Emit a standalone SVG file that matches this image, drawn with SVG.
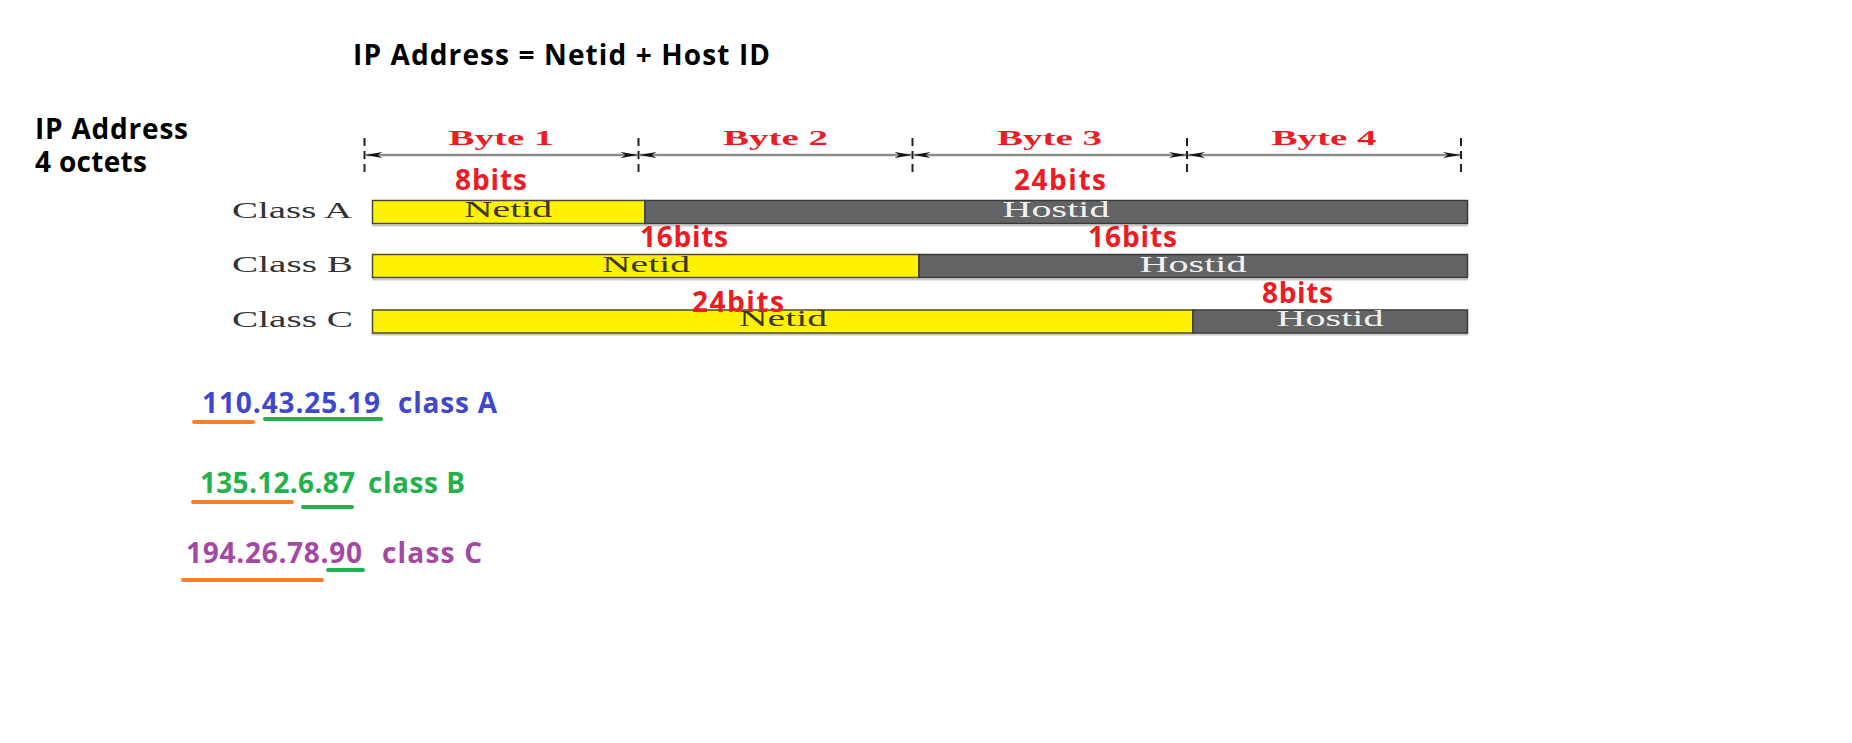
<svg xmlns="http://www.w3.org/2000/svg" width="1852" height="743" viewBox="0 0 1852 743">
<style>
.h{font-family:"Open Sans","Noto Sans",sans-serif;font-weight:bold;font-size:28px;fill:#000}
.byte{font-family:"Liberation Serif",serif;font-weight:bold;font-size:21px;fill:#ed1c24;text-anchor:middle}
.cls{font-family:"Liberation Serif",serif;font-size:23px;fill:#333}
.net{font-family:"Liberation Serif",serif;font-size:23px;fill:#3b3810;text-anchor:middle}
.host{font-family:"Liberation Serif",serif;font-size:23px;fill:#f2f2f2;text-anchor:middle}
.bits{font-family:"Open Sans","Noto Sans",sans-serif;font-weight:bold;font-size:28px;fill:#ed1c24}
.ip{font-family:"Open Sans","Noto Sans",sans-serif;font-weight:bold;font-size:28px}
.tick{stroke:#222;stroke-width:2;stroke-dasharray:8,5}
.arr{stroke:#8c8c8c;stroke-width:2.5;fill:none;marker-start:url(#ah);marker-end:url(#ah)}
.yel{fill:#fff200;stroke:#4a4a30;stroke-width:1.5}
.gry{fill:#636466;stroke:#3a3a3a;stroke-width:1.5}
.shadow{stroke:#c8c8c8;stroke-width:2}
.ul{stroke-width:4;stroke-linecap:round}
</style>
<defs>
<marker id="ah" markerUnits="userSpaceOnUse" markerWidth="18" markerHeight="8" refX="17" refY="4" orient="auto-start-reverse">
<path d="M0,1 L17,4 L0,7 L5,4 z" fill="#111"/>
</marker>
</defs>
<rect width="1852" height="743" fill="#fff"/>

<g id="title"><text class="h" x="353" y="65" textLength="417">IP Address = Netid + Host ID</text></g>
<g id="side-label">
<text class="h" x="35" y="139" textLength="153">IP Address</text>
<text class="h" x="35" y="172" textLength="112">4 octets</text>
</g>

<g id="connectors">
<line class="tick" x1="364.5" y1="138" x2="364.5" y2="174"/>
<line class="tick" x1="638.5" y1="138" x2="638.5" y2="174"/>
<line class="tick" x1="912.5" y1="138" x2="912.5" y2="174"/>
<line class="tick" x1="1187" y1="138" x2="1187" y2="174"/>
<line class="tick" x1="1461" y1="138" x2="1461" y2="174"/>
<line class="arr" x1="365.5" y1="155" x2="637.5" y2="155"/>
<line class="arr" x1="639.5" y1="155" x2="911.5" y2="155"/>
<line class="arr" x1="913.5" y1="155" x2="1186" y2="155"/>
<line class="arr" x1="1188" y1="155" x2="1460" y2="155"/>
</g>

<g id="bytes">
<text class="byte" x="501" y="145" textLength="105" lengthAdjust="spacingAndGlyphs">Byte 1</text>
<text class="byte" x="775.5" y="145" textLength="105" lengthAdjust="spacingAndGlyphs">Byte 2</text>
<text class="byte" x="1049.5" y="145" textLength="105" lengthAdjust="spacingAndGlyphs">Byte 3</text>
<text class="byte" x="1324" y="145" textLength="105" lengthAdjust="spacingAndGlyphs">Byte 4</text>
</g>

<g id="classA">
<text class="cls" x="232" y="218" textLength="120" lengthAdjust="spacingAndGlyphs">Class A</text>
<line class="shadow" x1="372" y1="225.5" x2="1468" y2="225.5"/>
<rect class="yel" x="372.5" y="200.5" width="272.5" height="23"/>
<rect class="gry" x="645" y="200.5" width="822.5" height="23"/>
<text class="net" x="508" y="217" textLength="88" lengthAdjust="spacingAndGlyphs">Netid</text>
<text class="host" x="1056" y="217" textLength="107" lengthAdjust="spacingAndGlyphs">Hostid</text>
<text class="bits" x="455" y="190" textLength="72">8bits</text>
<text class="bits" x="1014" y="190" textLength="92">24bits</text>
</g>

<g id="classB">
<text class="cls" x="232" y="272" textLength="121" lengthAdjust="spacingAndGlyphs">Class B</text>
<line class="shadow" x1="372" y1="279.5" x2="1468" y2="279.5"/>
<rect class="yel" x="372.5" y="254.5" width="546.5" height="23"/>
<rect class="gry" x="919" y="254.5" width="548.5" height="23"/>
<text class="net" x="646" y="272" textLength="88" lengthAdjust="spacingAndGlyphs">Netid</text>
<text class="host" x="1193" y="272" textLength="107" lengthAdjust="spacingAndGlyphs">Hostid</text>
<text class="bits" x="640" y="247" textLength="88">16bits</text>
<text class="bits" x="1088" y="247" textLength="89">16bits</text>
</g>

<g id="classC">
<text class="cls" x="232" y="327" textLength="121" lengthAdjust="spacingAndGlyphs">Class C</text>
<line class="shadow" x1="372" y1="334.5" x2="1468" y2="334.5"/>
<rect class="yel" x="372.5" y="310" width="820.5" height="23" stroke="#6e6420"/>
<rect class="gry" x="1193" y="310" width="274.5" height="23"/>
<text class="net" x="783" y="326" textLength="88" lengthAdjust="spacingAndGlyphs">Netid</text>
<text class="host" x="1330" y="326" textLength="107" lengthAdjust="spacingAndGlyphs">Hostid</text>
<text class="bits" x="692" y="312" textLength="92">24bits</text>
<text class="bits" x="1262" y="303" textLength="71">8bits</text>
</g>

<g id="exampleA">
<text class="ip" x="202" y="413" fill="#3f48cc" textLength="178">110.43.25.19</text>
<text class="ip" x="398" y="413" fill="#3f48cc" textLength="99">class A</text>
<line class="ul" x1="194" y1="422" x2="253" y2="422" stroke="#ff7f27"/>
<line class="ul" x1="265" y1="419" x2="381" y2="419" stroke="#22b14c"/>
</g>

<g id="exampleB">
<text class="ip" x="200" y="493" fill="#22b14c" textLength="155">135.12.6.87</text>
<text class="ip" x="368" y="493" fill="#22b14c" textLength="97">class B</text>
<line class="ul" x1="193" y1="502" x2="292" y2="502" stroke="#ff7f27"/>
<line class="ul" x1="303" y1="507" x2="352" y2="507" stroke="#22b14c"/>
</g>

<g id="exampleC">
<text class="ip" x="186" y="563" fill="#a349a4" textLength="176">194.26.78.90</text>
<text class="ip" x="382" y="563" fill="#a349a4" textLength="100">class C</text>
<line class="ul" x1="328" y1="570" x2="363" y2="570" stroke="#22b14c"/>
<line class="ul" x1="183" y1="580" x2="322" y2="580" stroke="#ff7f27"/>
</g>
</svg>
